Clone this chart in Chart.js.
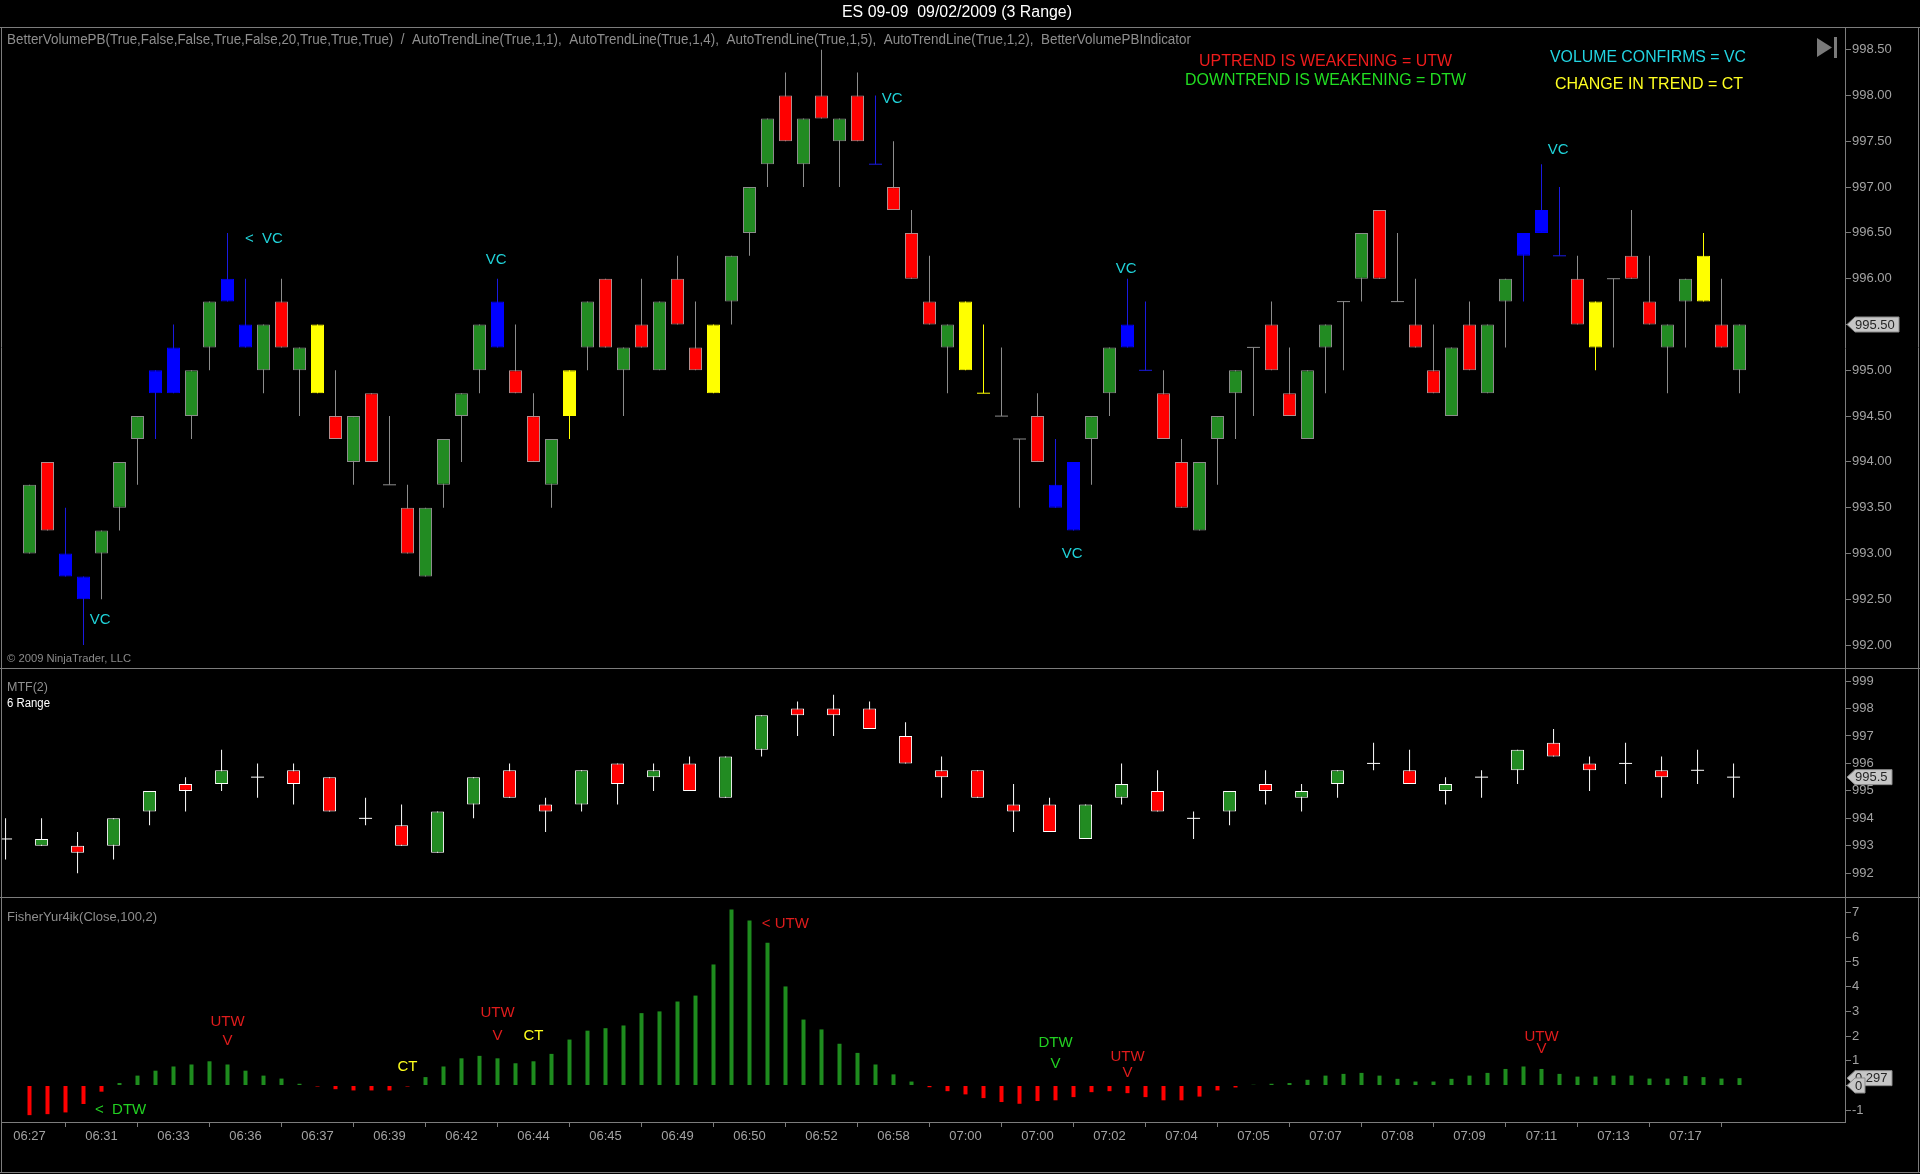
<!DOCTYPE html>
<html>
<head>
<meta charset="utf-8">
<title>ES 09-09 09/02/2009 (3 Range)</title>
<script src="https://cdn.jsdelivr.net/npm/chart.js@4.4.1/dist/chart.umd.min.js"></script>
<style>
  html, body { margin: 0; padding: 0; background: #000; width: 1920px; height: 1174px; overflow: hidden; }
  canvas { position: absolute; left: 0; }
</style>
</head>
<body>
<canvas id="pricePanel" width="1920" height="668" style="top:0"></canvas>
<canvas id="mtfPanel" width="1920" height="229" style="top:668px"></canvas>
<canvas id="fisherPanel" width="1920" height="277" style="top:897px"></canvas>
<script>
// ---- data ----
const timeLabels = ['06:27', '06:31', '06:33', '06:36', '06:37', '06:39', '06:42', '06:44', '06:45', '06:49', '06:50', '06:52',
  '06:58', '07:00', '07:00', '07:02', '07:04', '07:05', '07:07', '07:08', '07:09', '07:11', '07:13', '07:17'];
const barsPerLabel = 4;

// 3 range bars: g = up, r = down, b = volume confirms, y = change in trend, d = doji
const barKinds = ['g','r','b','b','g','g','g','b','b','g', 'g','b','b','g','r','g','y','r','g','r',
  'd','r','g','g','g','g','b','r','r','g', 'y','g','r','g','r','g','r','r','y','g',
  'g','g','r','g','r','g','r','b','r','r', 'r','g','y','y','d','d','r','b','b','g',
  'g','b','b','r','r','g','g','g','d','r', 'r','g','g','d','g','r','d','r','r','g',
  'r','g','g','b','b','b','r','y','d','r', 'r','g','g','y','r','g'];
const opens = [993.0, 994.0, 993.0, 992.75, 993.0, 993.5, 994.25, 994.75, 994.75, 994.5,
  995.25, 995.75, 995.5, 995.0, 995.75, 995.0, 995.5, 994.5, 994.0, 994.75,
  993.75, 993.5, 992.75, 993.75, 994.5, 995.0, 995.25, 995.0, 994.5, 993.75,
  994.5, 995.25, 996.0, 995.0, 995.5, 995.0, 996.0, 995.25, 994.75, 995.75,
  996.5, 997.25, 998.0, 997.25, 998.0, 997.5, 998.0, 997.25, 997.0, 996.5,
  995.75, 995.25, 995.75, 994.75, 994.5, 994.25, 994.5, 993.75, 994.0, 994.25,
  994.75, 995.25, 995.0, 994.75, 994.0, 993.25, 994.25, 994.75, 995.25, 995.5,
  994.75, 994.25, 995.25, 995.75, 996.0, 996.75, 995.75, 995.5, 995.0, 994.5,
  995.5, 994.75, 995.75, 996.25, 996.5, 996.25, 996.0, 995.75, 996.0, 996.25,
  995.75, 995.25, 995.75, 995.75, 995.5, 995.0];
const highs = [993.75, 994.0, 993.5, 992.75, 993.25, 994.0, 994.5, 995.0, 995.5, 995.0,
  995.75, 996.5, 996.0, 995.5, 996.0, 995.25, 995.5, 995.0, 994.5, 994.75,
  994.5, 993.75, 993.5, 994.25, 994.75, 995.5, 996.0, 995.5, 994.75, 994.25,
  995.0, 995.75, 996.0, 995.25, 996.0, 995.75, 996.25, 995.75, 995.5, 996.25,
  997.0, 997.75, 998.25, 997.75, 998.5, 997.75, 998.25, 998.0, 997.5, 996.75,
  996.25, 995.5, 995.75, 995.5, 995.25, 994.25, 994.75, 994.25, 994.0, 994.5,
  995.25, 996.0, 995.75, 995.0, 994.25, 994.0, 994.5, 995.0, 995.25, 995.75,
  995.25, 995.0, 995.5, 995.75, 996.5, 996.75, 996.5, 996.0, 995.5, 995.25,
  995.75, 995.5, 996.0, 996.5, 997.25, 997.0, 996.25, 995.75, 996.0, 996.75,
  996.25, 995.5, 996.0, 996.5, 996.0, 995.5];
const lows = [993.0, 993.25, 992.75, 992.0, 992.5, 993.25, 993.75, 994.25, 994.75, 994.25,
  995.0, 995.75, 995.25, 994.75, 995.25, 994.5, 994.75, 994.25, 993.75, 994.0,
  993.75, 993.0, 992.75, 993.5, 994.0, 994.75, 995.25, 994.75, 994.0, 993.5,
  994.25, 995.0, 995.25, 994.5, 995.25, 995.0, 995.5, 995.0, 994.75, 995.5,
  996.25, 997.0, 997.5, 997.0, 997.75, 997.0, 997.5, 997.25, 996.75, 996.0,
  995.5, 994.75, 995.0, 994.75, 994.5, 993.5, 994.0, 993.5, 993.25, 993.75,
  994.5, 995.25, 995.0, 994.25, 993.5, 993.25, 993.75, 994.25, 994.5, 995.0,
  994.5, 994.25, 994.75, 995.0, 995.75, 996.0, 995.75, 995.25, 994.75, 994.5,
  995.0, 994.75, 995.25, 995.75, 996.5, 996.25, 995.5, 995.0, 995.25, 996.0,
  995.5, 994.75, 995.25, 995.75, 995.25, 994.75];
const closes = [993.75, 993.25, 992.75, 992.5, 993.25, 994.0, 994.5, 995.0, 995.25, 995.0,
  995.75, 996.0, 995.25, 995.5, 995.25, 995.25, 994.75, 994.25, 994.5, 994.0,
  993.75, 993.0, 993.5, 994.25, 994.75, 995.5, 995.75, 994.75, 994.0, 994.25,
  995.0, 995.75, 995.25, 995.25, 995.25, 995.75, 995.5, 995.0, 995.5, 996.25,
  997.0, 997.75, 997.5, 997.75, 997.75, 997.75, 997.5, 997.25, 996.75, 996.0,
  995.5, 995.5, 995.0, 994.75, 994.5, 994.25, 994.0, 993.5, 993.25, 994.5,
  995.25, 995.5, 995.0, 994.25, 993.5, 994.0, 994.5, 995.0, 995.25, 995.0,
  994.5, 995.0, 995.5, 995.75, 996.5, 996.0, 995.75, 995.25, 994.75, 995.25,
  995.0, 995.5, 996.0, 996.5, 996.75, 996.25, 995.5, 995.25, 996.0, 996.0,
  995.5, 995.5, 996.0, 996.25, 995.25, 995.5];

// MTF(2): 6 range bars, one for every two 3 range bars
const mtfStart = -1.33;
const mtfOpen = [993.25, 993.0, 993.0, 993.0, 994.25, 995.25, 995.25, 995.5, 995.75, 995.5,
  994.0, 993.75, 992.75, 994.5, 995.75, 994.5, 994.5, 996.0, 995.5, 996.0,
  994.75, 996.5, 998.0, 998.0, 998.0, 997.0, 995.75, 995.75, 994.5, 994.5,
  993.25, 994.75, 995.0, 994.0, 994.25, 995.25, 994.75, 995.25, 996.0, 995.75,
  995.0, 995.5, 995.75, 996.75, 996.0, 996.0, 995.75, 995.75, 995.5];
const mtfHigh = [994.0, 994.0, 993.5, 994.0, 995.0, 995.5, 996.5, 996.0, 996.0, 995.5,
  994.75, 994.5, 994.25, 995.5, 996.0, 994.75, 995.75, 996.0, 996.0, 996.25,
  996.25, 997.75, 998.25, 998.5, 998.25, 997.5, 996.25, 995.75, 995.25, 994.75,
  994.5, 996.0, 995.75, 994.25, 995.0, 995.75, 995.25, 995.75, 996.75, 996.5,
  995.5, 995.75, 996.5, 997.25, 996.25, 996.75, 996.25, 996.5, 996.0];
const mtfLow = [992.5, 993.0, 992.0, 992.5, 993.75, 994.25, 995.0, 994.75, 994.5, 994.25,
  993.75, 993.0, 992.75, 994.0, 994.75, 993.5, 994.25, 994.5, 995.0, 995.0,
  994.75, 996.25, 997.0, 997.0, 997.25, 996.0, 994.75, 994.75, 993.5, 993.5,
  993.25, 994.5, 994.25, 993.25, 993.75, 994.5, 994.25, 994.75, 995.75, 995.25,
  994.5, 994.75, 995.25, 996.25, 995.0, 995.25, 994.75, 995.25, 994.75];
const mtfClose = [993.25, 993.25, 992.75, 994.0, 995.0, 995.0, 995.75, 995.5, 995.25, 994.25,
  994.0, 993.0, 994.25, 995.5, 994.75, 994.25, 995.75, 995.25, 995.75, 995.0,
  996.25, 997.75, 997.75, 997.75, 997.25, 996.0, 995.5, 994.75, 994.25, 993.5,
  994.5, 995.25, 994.25, 994.0, 995.0, 995.0, 995.0, 995.75, 996.0, 995.25,
  995.25, 995.5, 996.5, 996.25, 995.75, 996.0, 995.5, 995.75, 995.5];

// FisherYur4ik(Close,100,2)
const fisher = [-1.2, -1.16, -1.09, -0.75, -0.25, 0.1, 0.4, 0.6, 0.77, 0.85,
  0.98, 0.85, 0.6, 0.4, 0.28, 0.07, -0.04, -0.15, -0.2, -0.2,
  -0.2, -0.04, 0.34, 0.77, 1.1, 1.2, 1.1, 0.9, 0.98, 1.28,
  1.86, 2.22, 2.32, 2.43, 2.93, 3.0, 3.4, 3.64, 4.9, 7.13,
  6.68, 5.78, 4.01, 2.67, 2.27, 1.69, 1.32, 0.85, 0.45, 0.16,
  -0.07, -0.23, -0.36, -0.51, -0.67, -0.74, -0.63, -0.6, -0.47, -0.27,
  -0.23, -0.31, -0.47, -0.6, -0.6, -0.45, -0.2, -0.08, 0.03, 0.07,
  0.1, 0.23, 0.4, 0.47, 0.51, 0.4, 0.27, 0.16, 0.16, 0.27,
  0.4, 0.51, 0.67, 0.77, 0.67, 0.47, 0.36, 0.36, 0.4, 0.4,
  0.28, 0.28, 0.38, 0.34, 0.28, 0.297];

// text markers: [bar, value, text, colour, align]
const priceNotes = [
  [3.92, 992.28, 'VC', 'cyan', 'center'],
  [11.97, 996.43, '<  VC', 'cyan', 'left'],
  [25.93, 996.21, 'VC', 'cyan', 'center'],
  [47.92, 997.96, 'VC', 'cyan', 'center'],
  [60.93, 996.11, 'VC', 'cyan', 'center'],
  [57.93, 993.0, 'VC', 'cyan', 'center'],
  [84.93, 997.41, 'VC', 'cyan', 'center'],
];
const fisherNotes = [
  [3.64, -0.99, '<  DTW', 'green', 'left'],
  [11, 2.58, 'UTW', 'red', 'center'], [11, 1.81, 'V', 'red', 'center'],
  [21, 0.75, 'CT', 'yellow', 'center'],
  [26, 2.96, 'UTW', 'red', 'center'], [26, 2.02, 'V', 'red', 'center'],
  [28, 2.02, 'CT', 'yellow', 'center'],
  [40.68, 6.53, '< UTW', 'red', 'left'],
  [57, 1.73, 'DTW', 'green', 'center'], [57, 0.87, 'V', 'green', 'center'],
  [61, 1.17, 'UTW', 'red', 'center'], [61, 0.53, 'V', 'red', 'center'],
  [84, 1.98, 'UTW', 'red', 'center'], [84, 1.48, 'V', 'red', 'center'],
];

// ---- look ----
const FONT = '"Liberation Sans", Arial, Helvetica, sans-serif';
const FRAME = '#7c7c7c';
const AXIS_TEXT = '#a2a2a2';
const X_MIN = -1.5278;
const X_MAX = 100.861;
const noteColors = { cyan: '#20d2d8', red: '#e01c1c', green: '#22d022', yellow: '#ffff1e' };
const bodyFill = { g: '#228b22', r: '#ff0000', b: '#0000ff', y: '#ffff00' };
const bodyEdge = { g: '#8c8c8c', r: '#b48c8c', b: '#0000ff', y: '#ffff00' };
const wickColor = (k) => (k === 'b' ? '#1a1ae0' : k === 'y' ? '#ffff00' : '#8c8c8c');

function fitText(ctx, text, x, y, width, size, color, align) {
  ctx.save();
  ctx.font = size + 'px ' + FONT;
  ctx.fillStyle = color;
  ctx.textBaseline = 'middle';
  ctx.textAlign = 'left';
  const sx = width / ctx.measureText(text).width;
  ctx.translate(align === 'center' ? x - width / 2 : x, y);
  ctx.scale(sx, 1);
  ctx.fillText(text, 0, 0);
  ctx.restore();
}

function priceTag(ctx, y, text, left, w) {
  const h = 15;
  ctx.save();
  ctx.fillStyle = '#c6c6c6';
  ctx.strokeStyle = '#8a8a8a';
  ctx.lineWidth = 1;
  ctx.beginPath();
  ctx.moveTo(left, y);
  ctx.lineTo(left + 8, y - h / 2);
  ctx.lineTo(left + w, y - h / 2);
  ctx.lineTo(left + w, y + h / 2);
  ctx.lineTo(left + 8, y + h / 2);
  ctx.closePath();
  ctx.fill();
  ctx.stroke();
  ctx.fillStyle = '#262626';
  ctx.font = '13px ' + FONT;
  ctx.textBaseline = 'middle';
  ctx.textAlign = 'left';
  ctx.fillText(text, left + 8, y + 0.5);
  ctx.restore();
}

function frame(ctx, w, top, bottom) {
  ctx.save();
  ctx.strokeStyle = FRAME;
  ctx.lineWidth = 1;
  ctx.beginPath();
  ctx.moveTo(0, top + 0.5); ctx.lineTo(w, top + 0.5);
  ctx.moveTo(1.5, top); ctx.lineTo(1.5, bottom);
  ctx.moveTo(w - 1.5, top); ctx.lineTo(w - 1.5, bottom);
  ctx.stroke();
  ctx.restore();
}

const notesPlugin = {
  id: 'notes',
  afterDatasetsDraw(chart, args, opts) {
    const { ctx, scales: { x, y } } = chart;
    ctx.save();
    ctx.font = '15px ' + FONT;
    ctx.textBaseline = 'middle';
    (opts.items || []).forEach(([bx, v, text, color, align]) => {
      ctx.fillStyle = noteColors[color];
      ctx.textAlign = align;
      ctx.fillText(text, x.getPixelForValue(bx), y.getPixelForValue(v));
    });
    ctx.restore();
  },
};

function yAxis(min, max, step, fmt) {
  return {
    position: 'right',
    min: min,
    max: max,
    afterFit: (scale) => {
      scale.width = 75;
      scale.paddingTop = 0;
      scale.paddingBottom = 0;
    },
    ticks: {
      stepSize: step,
      includeBounds: false,
      autoSkip: false,
      padding: 1,
      color: AXIS_TEXT,
      font: { family: FONT, size: 13 },
      callback: fmt,
    },
    grid: { drawOnChartArea: false, color: FRAME, tickLength: 6 },
    border: { color: FRAME },
  };
}

function hiddenX() {
  return { type: 'linear', min: X_MIN, max: X_MAX, offset: false, display: false };
}

function baseOptions(padTop, xScale, yScale, notes) {
  return {
    responsive: false,
    animation: false,
    events: [],
    layout: { autoPadding: false, padding: { left: 2, top: padTop, right: 0, bottom: 0 } },
    plugins: { legend: { display: false }, tooltip: { enabled: false }, notes: { items: notes } },
    scales: { x: xScale, y: yScale },
  };
}

// ---- price panel ----
const barIdx = opens.map((_, i) => i);
const bodyIdx = barIdx.filter((i) => opens[i] !== closes[i]);
const dojiIdx = barIdx.filter((i) => opens[i] === closes[i]);

const priceDecor = {
  id: 'priceDecor',
  afterDraw(chart) {
    const { ctx, width, scales: { y } } = chart;
    frame(ctx, width, 27, chart.height);
    fitText(ctx, 'ES 09-09  09/02/2009 (3 Range)', 957, 13, 230, 16, '#ffffff', 'center');
    fitText(ctx, 'BetterVolumePB(True,False,False,True,False,20,True,True,True)  /  AutoTrendLine(True,1,1),  AutoTrendLine(True,1,4),  AutoTrendLine(True,1,5),  AutoTrendLine(True,1,2),  BetterVolumePBIndicator',
      7, 40, 1184, 14, '#8e8e8e', 'left');
    fitText(ctx, 'UPTREND IS WEAKENING = UTW', 1199, 61, 253, 17, '#ee1c1c', 'left');
    fitText(ctx, 'DOWNTREND IS WEAKENING = DTW', 1185, 80, 281, 17, '#22dd22', 'left');
    fitText(ctx, 'VOLUME CONFIRMS = VC', 1550, 57, 196, 17, '#22d4e2', 'left');
    fitText(ctx, 'CHANGE IN TREND = CT', 1555, 84, 188, 17, '#ffff22', 'left');
    fitText(ctx, '\u00a9 2009 NinjaTrader, LLC', 7, 659, 124, 11, '#8a8a8a', 'left');
    // go-to-end button
    ctx.save();
    ctx.fillStyle = '#7a7a7a';
    ctx.beginPath();
    ctx.moveTo(1817, 38); ctx.lineTo(1832, 47.5); ctx.lineTo(1817, 57); ctx.closePath();
    ctx.fill();
    ctx.fillRect(1834, 37, 3, 21);
    ctx.restore();
    priceTag(ctx, y.getPixelForValue(closes[closes.length - 1]), closes[closes.length - 1].toFixed(2), 1847, 52);
  },
};

new Chart(document.getElementById('pricePanel'), {
  type: 'bar',
  data: {
    datasets: [
      {
        label: 'wick',
        data: barIdx.map((i) => ({ x: i, y: [lows[i], highs[i]] })),
        backgroundColor: barIdx.map((i) => wickColor(barKinds[i])),
        barThickness: 1,
        inflateAmount: 0,
        grouped: false,
        order: 3,
      },
      {
        label: 'body',
        data: bodyIdx.map((i) => ({ x: i, y: [opens[i], closes[i]] })),
        backgroundColor: bodyIdx.map((i) => bodyFill[barKinds[i]]),
        borderColor: bodyIdx.map((i) => bodyEdge[barKinds[i]]),
        borderWidth: 1,
        borderSkipped: false,
        barThickness: 13,
        inflateAmount: 0,
        grouped: false,
        order: 2,
      },
      {
        type: 'line',
        label: 'doji',
        data: dojiIdx.map((i) => ({ x: i, y: opens[i] })),
        showLine: false,
        pointStyle: 'line',
        pointRadius: 6.5,
        pointBorderWidth: 1,
        pointBorderColor: dojiIdx.map((i) => wickColor(barKinds[i])),
        order: 1,
      },
    ],
  },
  options: baseOptions(28, hiddenX(), yAxis(991.75, 998.737, 0.5, (v) => v.toFixed(2)), priceNotes),
  plugins: [notesPlugin, priceDecor],
});

// ---- MTF panel ----
const mtfIdx = mtfOpen.map((_, k) => k);
const mtfBody = mtfIdx.filter((k) => mtfOpen[k] !== mtfClose[k]);
const mtfDoji = mtfIdx.filter((k) => mtfOpen[k] === mtfClose[k]);
const mtfX = (k) => mtfStart + 2 * k;

const mtfDecor = {
  id: 'mtfDecor',
  afterDraw(chart) {
    const { ctx, width, scales: { y } } = chart;
    frame(ctx, width, 0, chart.height);
    fitText(ctx, 'MTF(2)', 7, 19, 41, 13, '#8e8e8e', 'left');
    fitText(ctx, '6 Range', 7, 36, 43, 12, '#ffffff', 'left');
    const last = mtfClose[mtfClose.length - 1];
    priceTag(ctx, y.getPixelForValue(last), last.toFixed(1), 1847, 45);
  },
};

new Chart(document.getElementById('mtfPanel'), {
  type: 'bar',
  data: {
    datasets: [
      {
        label: 'wick',
        data: mtfIdx.map((k) => ({ x: mtfX(k), y: [mtfLow[k], mtfHigh[k]] })),
        backgroundColor: '#ffffff',
        barThickness: 1,
        inflateAmount: 0,
        grouped: false,
        order: 3,
      },
      {
        label: 'body',
        data: mtfBody.map((k) => ({ x: mtfX(k), y: [mtfOpen[k], mtfClose[k]] })),
        backgroundColor: mtfBody.map((k) => (mtfClose[k] > mtfOpen[k] ? '#228b22' : '#ff0000')),
        borderColor: '#ffffff',
        borderWidth: 1,
        borderSkipped: false,
        barThickness: 13,
        inflateAmount: 0,
        grouped: false,
        order: 2,
      },
      {
        type: 'line',
        label: 'doji',
        data: mtfDoji.map((k) => ({ x: mtfX(k), y: mtfOpen[k] })),
        showLine: false,
        pointStyle: 'line',
        pointRadius: 6.5,
        pointBorderWidth: 1,
        pointBorderColor: '#ffffff',
        order: 1,
      },
    ],
  },
  options: baseOptions(1, hiddenX(), yAxis(991.137, 999.437, 1, (v) => v.toFixed(0)), []),
  plugins: [notesPlugin, mtfDecor],
});

// ---- Fisher panel ----
const fisherDecor = {
  id: 'fisherDecor',
  afterDraw(chart) {
    const { ctx, width, height, scales: { y } } = chart;
    frame(ctx, width, 0, height - 1);
    ctx.save();
    ctx.strokeStyle = FRAME;
    ctx.beginPath();
    ctx.moveTo(0, height - 1.5); ctx.lineTo(width, height - 1.5);
    ctx.stroke();
    ctx.restore();
    fitText(ctx, 'FisherYur4ik(Close,100,2)', 7, 20, 150, 13, '#8e8e8e', 'left');
    const last = fisher[fisher.length - 1];
    priceTag(ctx, y.getPixelForValue(last), last.toFixed(3), 1847, 45);
    priceTag(ctx, y.getPixelForValue(0), '0', 1847, 18);
  },
};

const timeTicks = timeLabels.map((_, n) => n * barsPerLabel);

new Chart(document.getElementById('fisherPanel'), {
  type: 'bar',
  data: {
    datasets: [
      {
        label: 'Fisher',
        data: fisher.map((v, i) => ({ x: i, y: v })),
        backgroundColor: fisher.map((v) => (v >= 0 ? '#1e8c1e' : '#ff0000')),
        barThickness: 4,
        inflateAmount: 0,
        grouped: false,
      },
    ],
  },
  options: baseOptions(1, {
    type: 'linear',
    min: X_MIN,
    max: X_MAX,
    offset: false,
    position: 'bottom',
    afterBuildTicks: (scale) => {
      scale.ticks = timeTicks.map((v) => ({ value: v }));
    },
    afterFit: (scale) => {
      scale.height = 52;
      scale.paddingLeft = 0;
      scale.paddingRight = 0;
    },
    ticks: {
      autoSkip: false,
      maxRotation: 0,
      padding: 2,
      color: AXIS_TEXT,
      font: { family: FONT, size: 13 },
      callback: (v, n) => timeLabels[n],
    },
    grid: { drawOnChartArea: false, color: FRAME, tickLength: 5 },
    border: { color: FRAME },
  }, yAxis(-1.478, 7.591, 1, (v) => String(v)), fisherNotes),
  plugins: [notesPlugin, fisherDecor],
});
</script>
</body>
</html>
